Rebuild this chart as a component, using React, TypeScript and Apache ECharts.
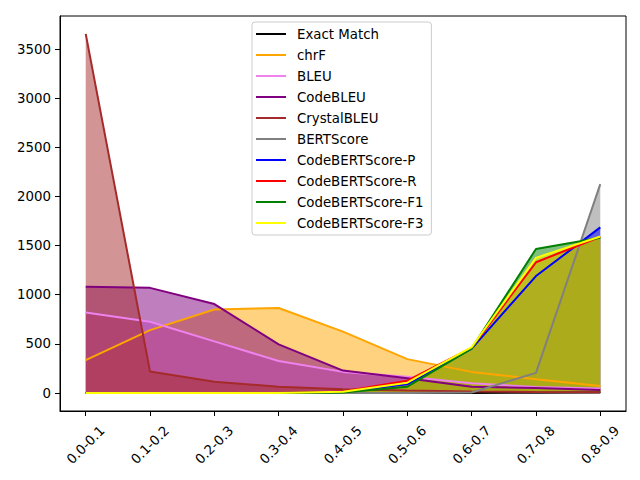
import React, { useEffect, useRef } from "react";
import * as echarts from "echarts";

const categories = ["0.0-0.1", "0.1-0.2", "0.2-0.3", "0.3-0.4", "0.4-0.5", "0.5-0.6", "0.6-0.7", "0.7-0.8", "0.8-0.9"];
const yTicks = [0, 500, 1000, 1500, 2000, 2500, 3000, 3500];

const exactMatch = [0, 0, 0, 0, 0, 0, 1, 3, 6];
const chrF = [335, 640, 850, 865, 625, 345, 215, 140, 72];
const bleu = [820, 725, 525, 325, 215, 165, 100, 60, 45];
const codeBleu = [1080, 1070, 905, 495, 228, 150, 64, 50, 30];
const crystalBleu = [3654, 218, 115, 64, 38, 25, 15, 10, 8];
const bertScore = [0, 0, 0, 0, 0, 0, 5, 205, 2125];
const cbsP = [0, 0, 0, 0, 10, 88, 452, 1190, 1685];
const cbsR = [0, 0, 0, 0, 15, 125, 460, 1330, 1590];
const cbsF1 = [0, 0, 0, 0, 5, 64, 452, 1465, 1580];
const cbsF3 = [0, 0, 0, 0, 12, 105, 466, 1375, 1592];

const seriesDefs = [
  { name: "Exact Match", color: "#000000", data: exactMatch },
  { name: "chrF", color: "#FFA500", data: chrF },
  { name: "BLEU", color: "#EE82EE", data: bleu },
  { name: "CodeBLEU", color: "#800080", data: codeBleu },
  { name: "CrystalBLEU", color: "#A52A2A", data: crystalBleu },
  { name: "BERTScore", color: "#808080", data: bertScore },
  { name: "CodeBERTScore-P", color: "#0000FF", data: cbsP },
  { name: "CodeBERTScore-R", color: "#FF0000", data: cbsR },
  { name: "CodeBERTScore-F1", color: "#008000", data: cbsF1 },
  { name: "CodeBERTScore-F3", color: "#FFFF00", data: cbsF3 },
];

const FONT = "DejaVu Sans";

export default function App() {
  const ref = useRef<HTMLDivElement>(null);
  useEffect(() => {
    if (!ref.current) return;
    const chart = echarts.init(ref.current, undefined, { renderer: "svg" });
    const toPairs = (d: number[]) => d.map((v, i) => [i, v]);
    const areaSeries = seriesDefs.map((s) => ({
      type: "line",
      name: s.name + " area",
      data: toPairs(s.data),
      symbol: "none",
      silent: true,
      z: 1,
      lineStyle: { width: 0, opacity: 0 },
      itemStyle: { color: s.color },
      areaStyle: { color: s.color, opacity: 0.5 },
    }));
    const lineSeries = seriesDefs.map((s) => ({
      type: "line",
      name: s.name,
      data: toPairs(s.data),
      symbol: "none",
      z: 2,
      color: s.color,
      lineStyle: { width: 2, color: s.color },
      itemStyle: { color: s.color },
    }));
    const xVals = categories.map((_, i) => i);
    chart.setOption({
      animation: false,
      textStyle: { fontFamily: FONT },
      grid: {
        left: 60,
        right: 14,
        top: 16,
        bottom: 69,
        show: true,
        borderColor: "#000",
        borderWidth: 1,
        backgroundColor: "transparent",
      },
      legend: {
        data: seriesDefs.map((s) => s.name),
        orient: "vertical",
        left: 252,
        top: 22,
        icon: "rect",
        itemWidth: 30,
        itemHeight: 2,
        itemGap: 5,
        padding: [4, 8, 4, 4],
        backgroundColor: "rgba(255,255,255,0.8)",
        borderColor: "#cccccc",
        borderWidth: 1,
        borderRadius: 3,
        textStyle: {
          fontFamily: FONT,
          fontSize: 13.33,
          color: "#000",
          lineHeight: 16,
          padding: [0, 0, 0, 6],
        },
      },
      xAxis: {
        type: "value",
        min: -0.4,
        max: 8.4,
        splitLine: { show: false },
        axisLine: { show: true, onZero: false, lineStyle: { color: "#000", width: 1 } },
        axisTick: { show: true, customValues: xVals, length: 5, lineStyle: { color: "#000" } },
        axisLabel: {
          customValues: xVals,
          formatter: (v: number) => categories[Math.round(v)] ?? "",
          rotate: 45,
          align: "center",
          verticalAlign: "middle",
          margin: 34,
          fontFamily: FONT,
          fontSize: 13.33,
          color: "#000",
        },
      },
      yAxis: {
        type: "value",
        min: -183,
        max: 3836,
        splitLine: { show: false },
        axisLine: { show: true, onZero: false, lineStyle: { color: "#000", width: 1 } },
        axisTick: { show: true, customValues: yTicks, length: 5, lineStyle: { color: "#000" } },
        axisLabel: {
          customValues: yTicks,
          formatter: (v: number) => String(Math.round(v)),
          margin: 9,
          fontFamily: FONT,
          fontSize: 13.33,
          color: "#000",
        },
      },
      series: [...areaSeries, ...lineSeries],
    });
    return () => chart.dispose();
  }, []);
  return (
    <div
      ref={ref}
      style={{ position: "fixed", left: 0, top: 0, width: 640, height: 480, background: "#fff" }}
    />
  );
}
